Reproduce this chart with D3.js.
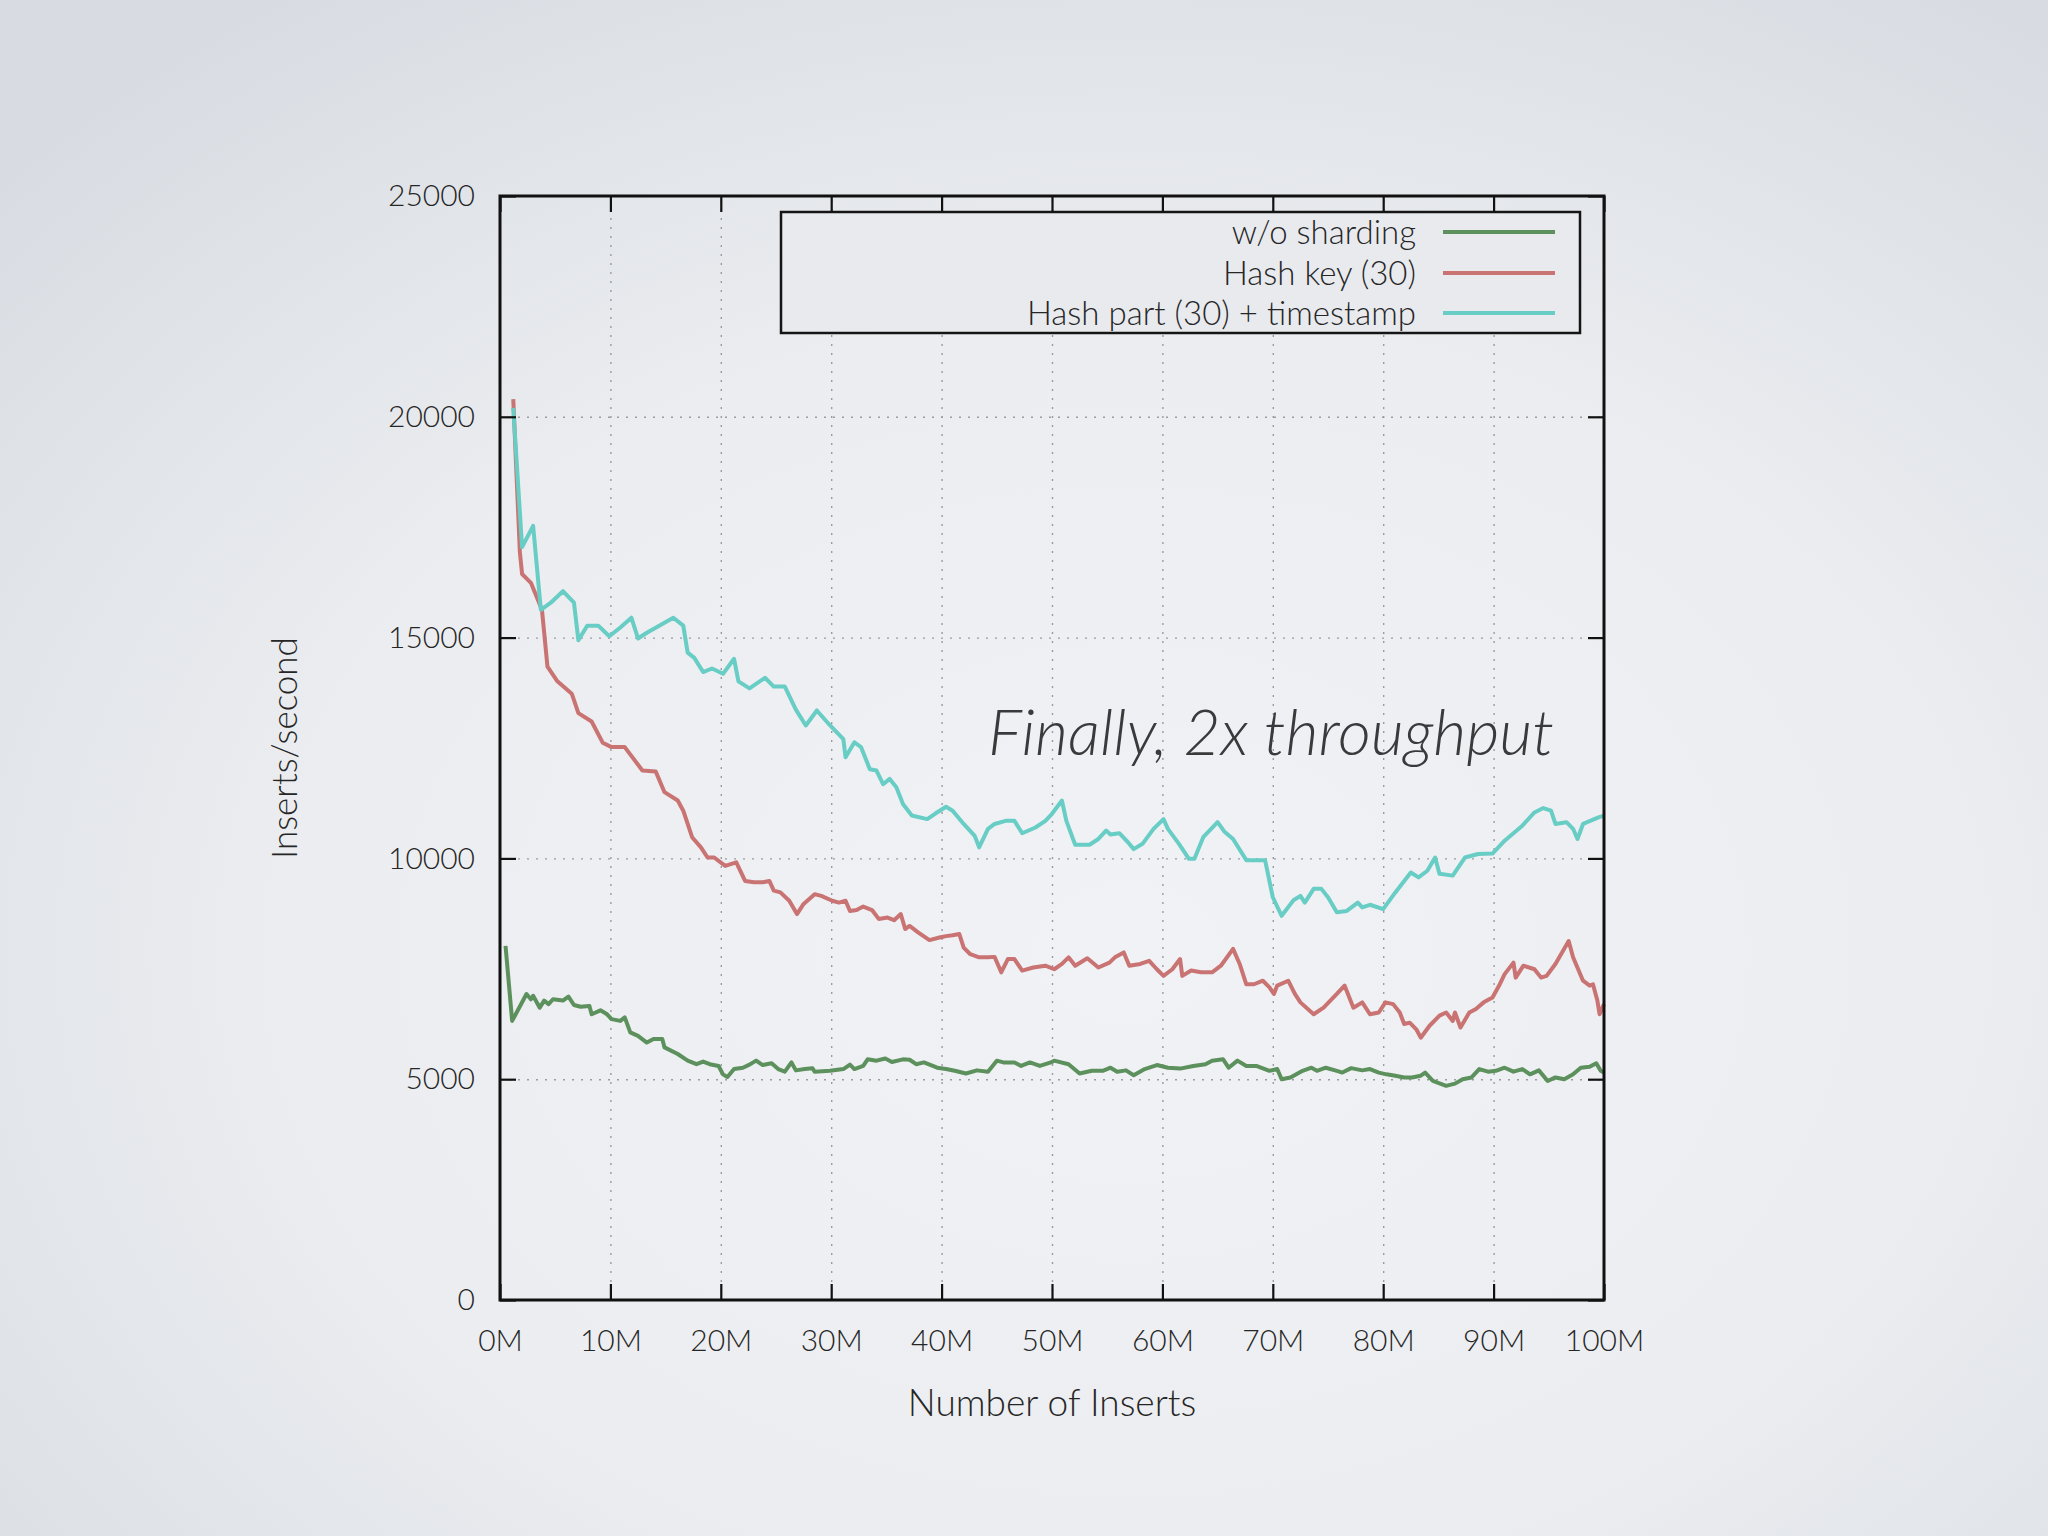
<!DOCTYPE html>
<html>
<head>
<meta charset="utf-8">
<script src="https://cdn.jsdelivr.net/npm/d3@7"></script>
<style>
  html, body { margin: 0; padding: 0; background: #e6e8ec; }
  svg { display: block; }
  text { font-family: "Lato", "Open Sans", "DejaVu Sans", sans-serif; }
</style>
</head>
<body>
<script>
// ---------- DATA ----------
const seriesNames = ["w/o sharding", "Hash key (30)", "Hash part (30) + timestamp"];
const seriesColors = ["#5c905c", "#c97373", "#68cdc4"];

const xTicks = [0, 10, 20, 30, 40, 50, 60, 70, 80, 90, 100];
const xTickLabels = ["0M","10M","20M","30M","40M","50M","60M","70M","80M","90M","100M"];
const yTicks = [0, 5000, 10000, 15000, 20000, 25000];
const yTickLabels = ["0","5000","10000","15000","20000","25000"];

// w/o sharding (x in millions of inserts)
const greenX = [0.5,1.1,2.4,2.8,3.0,3.6,4.0,4.4,4.8,5.7,6.2,6.7,7.3,8.1,8.3,9.1,9.7,10.1,10.9,11.3,11.8,12.5,13.3,13.9,14.7,14.9,16.1,17.0,17.8,18.4,19.0,19.8,20.2,20.6,21.2,22.0,22.6,23.2,23.8,24.6,25.2,25.8,26.4,26.8,27.6,28.3,28.5,29.9,31.1,31.7,32.1,32.9,33.3,34.1,34.9,35.5,36.5,37.1,37.7,38.4,39.6,40.4,41.2,42.2,43.2,44.2,45.0,45.6,46.6,47.2,48.0,48.9,49.9,50.2,51.5,52.5,53.6,54.6,55.3,55.9,56.7,57.4,58.4,59.5,60.5,61.6,62.8,63.9,64.5,65.5,66.0,66.8,67.6,68.5,69.7,70.4,70.8,71.6,72.7,73.5,74.0,74.8,75.8,76.3,77.1,78.1,78.8,79.6,80.3,81.1,81.9,82.6,83.4,83.8,84.5,85.7,86.5,87.2,88.0,88.7,89.5,90.2,91.0,91.8,92.6,93.3,94.1,94.9,95.6,96.4,97.2,97.9,98.7,99.3,99.7,100];
const greenY = [8020,6320,6930,6810,6890,6620,6780,6700,6810,6780,6870,6680,6640,6660,6470,6560,6470,6360,6320,6400,6060,5980,5830,5910,5910,5720,5570,5420,5340,5400,5340,5300,5110,5050,5230,5260,5330,5420,5320,5360,5230,5170,5380,5200,5230,5250,5170,5190,5230,5330,5230,5300,5450,5420,5470,5390,5450,5440,5340,5380,5260,5230,5190,5130,5200,5170,5420,5380,5380,5300,5380,5300,5380,5420,5340,5130,5190,5190,5260,5170,5200,5090,5230,5320,5260,5240,5300,5340,5420,5450,5260,5420,5300,5300,5190,5230,5000,5040,5190,5260,5190,5260,5190,5150,5250,5200,5230,5150,5110,5080,5040,5040,5080,5150,4960,4850,4900,5000,5040,5230,5170,5190,5260,5170,5230,5110,5200,4960,5040,5000,5110,5260,5280,5360,5190,5150];

// Hash key (30)
const redX = [1.2,1.8,2.0,2.8,3.8,4.3,5.2,6.5,7.1,8.3,9.3,10.1,11.3,12.9,14.1,14.9,16.1,16.6,17.4,18.2,18.8,19.4,20.4,21.4,22.2,23.0,23.8,24.4,24.8,25.4,26.2,26.9,27.5,28.5,29.1,30.1,30.7,31.3,31.7,32.3,32.9,33.7,34.3,35.1,35.7,36.3,36.7,37.1,37.9,38.9,39.8,40.4,41.0,41.6,42.0,42.6,43.4,44.2,44.8,45.4,46.0,46.6,47.3,48.3,49.4,50.2,50.9,51.5,52.1,53.2,54.2,55.2,55.7,56.5,57.0,58.0,58.8,59.5,60.1,60.9,61.6,61.8,62.6,63.5,64.5,65.3,66.4,67.0,67.6,68.3,69.1,69.7,70.1,70.4,71.4,72.0,72.5,73.7,74.6,75.8,76.5,77.3,78.1,78.8,79.6,80.2,80.9,81.5,81.9,82.4,83.0,83.4,84.2,85.1,85.7,86.3,86.5,87.0,87.8,88.4,89.1,89.9,90.5,91.0,91.8,92.0,92.7,93.7,94.3,94.8,95.6,96.8,97.2,98.1,98.7,99.0,99.4,99.6,100];
const redY = [20400,16930,16440,16240,15630,14340,14010,13730,13290,13100,12620,12520,12520,11990,11970,11500,11310,11080,10480,10250,10020,10020,9830,9910,9490,9460,9460,9490,9270,9230,9040,8740,8970,9190,9150,9040,9000,9040,8810,8830,8910,8830,8630,8660,8600,8740,8400,8470,8320,8150,8210,8240,8260,8290,7980,7830,7760,7760,7770,7420,7720,7720,7460,7530,7570,7490,7610,7760,7570,7740,7530,7640,7760,7870,7570,7610,7680,7490,7340,7490,7720,7340,7460,7420,7420,7570,7950,7610,7150,7150,7230,7080,6930,7120,7230,6930,6740,6470,6620,6930,7120,6620,6740,6470,6510,6740,6700,6510,6250,6280,6130,5940,6210,6440,6510,6320,6510,6170,6510,6590,6740,6850,7120,7380,7640,7300,7570,7490,7300,7340,7610,8130,7760,7230,7120,7150,6780,6470,6700];

// Hash part (30) + timestamp
const cyanX = [1.2,2.0,3.0,3.7,4.6,5.7,6.7,7.1,7.9,8.9,9.9,10.9,11.9,12.5,13.3,14.7,15.7,16.6,17.0,17.6,18.4,19.2,20.2,21.2,21.6,22.6,24.0,24.8,25.8,26.8,27.7,28.7,29.9,31.1,31.3,32.1,32.7,33.5,34.1,34.7,35.3,35.9,36.5,37.3,38.7,39.4,40.4,41.0,42.0,43.0,43.4,44.2,44.8,45.8,46.6,47.3,48.5,49.4,50.0,50.9,51.3,52.1,53.4,54.2,54.9,55.3,56.1,56.9,57.4,58.2,59.2,60.1,60.5,61.5,62.4,62.9,63.7,65.0,65.6,66.4,67.6,69.3,70.0,70.8,71.9,72.5,72.9,73.7,74.4,75.0,75.8,76.7,77.7,78.1,78.8,80.0,81.1,82.5,83.2,84.0,84.7,85.1,86.3,87.4,88.6,89.9,91.0,92.6,93.7,94.5,95.2,95.6,96.6,97.2,97.6,98.1,99.5,100];
const cyanY = [20200,17050,17530,15630,15790,16050,15790,14940,15270,15270,15030,15230,15450,14980,15110,15310,15450,15270,14660,14540,14220,14300,14180,14520,14010,13850,14090,13890,13890,13370,13010,13350,13010,12700,12290,12630,12520,12020,11990,11680,11800,11610,11230,10970,10890,11010,11170,11080,10780,10510,10250,10670,10780,10850,10850,10570,10700,10850,11010,11310,10850,10310,10310,10440,10630,10540,10570,10360,10210,10330,10670,10890,10670,10330,9990,9990,10480,10820,10610,10440,9960,9960,9120,8700,9060,9150,9000,9310,9310,9120,8780,8810,9000,8890,8950,8850,9230,9680,9570,9720,10020,9650,9610,10020,10100,10110,10400,10740,11040,11140,11080,10780,10820,10670,10440,10780,10930,10970];

const annotation = "Finally, 2x throughput";
const xTitle = "Number of Inserts";
const yTitle = "Inserts/second";

// ---------- LAYOUT ----------
const W = 2048, H = 1536;
const plot = { left: 500, right: 1604, top: 196, bottom: 1300 };
const pw = plot.right - plot.left, ph = plot.bottom - plot.top;

const svg = d3.select("body").append("svg").attr("width", W).attr("height", H);

const defs = svg.append("defs");
const grad = defs.append("radialGradient").attr("id", "bg")
  .attr("cx", "55%").attr("cy", "62%").attr("r", "75%");
grad.append("stop").attr("offset", "0%").attr("stop-color", "#f1f2f5");
grad.append("stop").attr("offset", "55%").attr("stop-color", "#ebedf0");
grad.append("stop").attr("offset", "100%").attr("stop-color", "#d8dce2");
svg.append("rect").attr("width", W).attr("height", H).attr("fill", "url(#bg)");

const x = d3.scaleLinear().domain([0, 100]).range([plot.left, plot.right]);
const y = d3.scaleLinear().domain([0, 25000]).range([plot.bottom, plot.top]);

// grid
const grid = svg.append("g");
grid.append("g").attr("transform", `translate(0,${plot.bottom})`)
  .call(d3.axisBottom(x).tickValues(xTicks.slice(1, -1)).tickSize(-ph).tickFormat(""))
  .call(g => g.select(".domain").remove())
  .call(g => g.selectAll("line").attr("stroke", "#9a9ca0").attr("stroke-width", 1.4).attr("stroke-dasharray", "2,7"));
grid.append("g").attr("transform", `translate(${plot.left},0)`)
  .call(d3.axisLeft(y).tickValues(yTicks.slice(1, -1)).tickSize(-pw).tickFormat(""))
  .call(g => g.select(".domain").remove())
  .call(g => g.selectAll("line").attr("stroke", "#9a9ca0").attr("stroke-width", 1.4).attr("stroke-dasharray", "2,7"));

// lines
const line = d3.line().x(d => x(d[0])).y(d => y(d[1]));
const series = [
  d3.zip(greenX, greenY),
  d3.zip(redX, redY),
  d3.zip(cyanX, cyanY)
];
series.forEach((s, i) => {
  svg.append("path").datum(s).attr("d", line)
    .attr("fill", "none").attr("stroke", seriesColors[i])
    .attr("stroke-width", 4).attr("stroke-linejoin", "round");
});

// legend box (opaque)
const leg = { x0: 781, x1: 1580, y0: 212, y1: 333 };
svg.append("rect").attr("x", leg.x0).attr("y", leg.y0)
  .attr("width", leg.x1 - leg.x0).attr("height", leg.y1 - leg.y0)
  .attr("fill", "#e8eaee").attr("stroke", "#151515").attr("stroke-width", 2.5);
const rowY = [232, 273, 313];
seriesNames.forEach((n, i) => {
  svg.append("text").attr("x", 1416).attr("y", rowY[i]).attr("dy", "0.35em")
    .attr("text-anchor", "end").attr("font-size", 33).attr("font-weight", 300)
    .attr("fill", "#262626").text(n);
  svg.append("line").attr("x1", 1443).attr("x2", 1555).attr("y1", rowY[i]).attr("y2", rowY[i])
    .attr("stroke", seriesColors[i]).attr("stroke-width", 4);
});

// axes with inward ticks
const tickLen = 16;
function styleAxis(g) {
  g.select(".domain").remove();
  g.selectAll(".tick line").attr("stroke", "#111").attr("stroke-width", 2.2);
}
svg.append("g").attr("transform", `translate(0,${plot.bottom})`)
  .call(d3.axisBottom(x).tickValues(xTicks).tickSize(-tickLen).tickPadding(30)
    .tickFormat((d, i) => xTickLabels[i]))
  .call(styleAxis)
  .call(g => g.selectAll("text").attr("font-size", 30).attr("font-weight", 300)
    .attr("font-family", "Lato, 'Open Sans', sans-serif").attr("fill", "#262626"));
svg.append("g").attr("transform", `translate(0,${plot.top})`)
  .call(d3.axisTop(x).tickValues(xTicks).tickSize(-tickLen).tickFormat(""))
  .call(styleAxis);
svg.append("g").attr("transform", `translate(${plot.left},0)`)
  .call(d3.axisLeft(y).tickValues(yTicks).tickSize(-tickLen).tickPadding(25)
    .tickFormat((d, i) => yTickLabels[i]))
  .call(styleAxis)
  .call(g => g.selectAll("text").attr("font-size", 30).attr("font-weight", 300)
    .attr("font-family", "Lato, 'Open Sans', sans-serif").attr("fill", "#262626"));
svg.append("g").attr("transform", `translate(${plot.right},0)`)
  .call(d3.axisRight(y).tickValues(yTicks).tickSize(-tickLen).tickFormat(""))
  .call(styleAxis);

// frame
svg.append("rect").attr("x", plot.left).attr("y", plot.top).attr("width", pw).attr("height", ph)
  .attr("fill", "none").attr("stroke", "#111").attr("stroke-width", 3);

// titles
svg.append("text").attr("x", (plot.left + plot.right) / 2).attr("y", 1403).attr("dy", "0.35em")
  .attr("text-anchor", "middle").attr("font-size", 37).attr("font-weight", 300)
  .attr("fill", "#262626").text(xTitle);
svg.append("text").attr("transform", "translate(285,748) rotate(-90)").attr("dy", "0.35em")
  .attr("text-anchor", "middle").attr("font-size", 35).attr("font-weight", 300)
  .attr("fill", "#262626").text(yTitle);

// annotation
const ann = svg.append("text").attr("x", 1554).attr("y", 755)
  .attr("text-anchor", "end").attr("font-size", 68).attr("font-weight", 300)
  .attr("font-style", "italic").attr("fill", "#3a3a3c").text(annotation);
const aw = ann.node().getComputedTextLength();
if (aw > 0) ann.attr("font-size", 68 * 566 / aw);
</script>
</body>
</html>
